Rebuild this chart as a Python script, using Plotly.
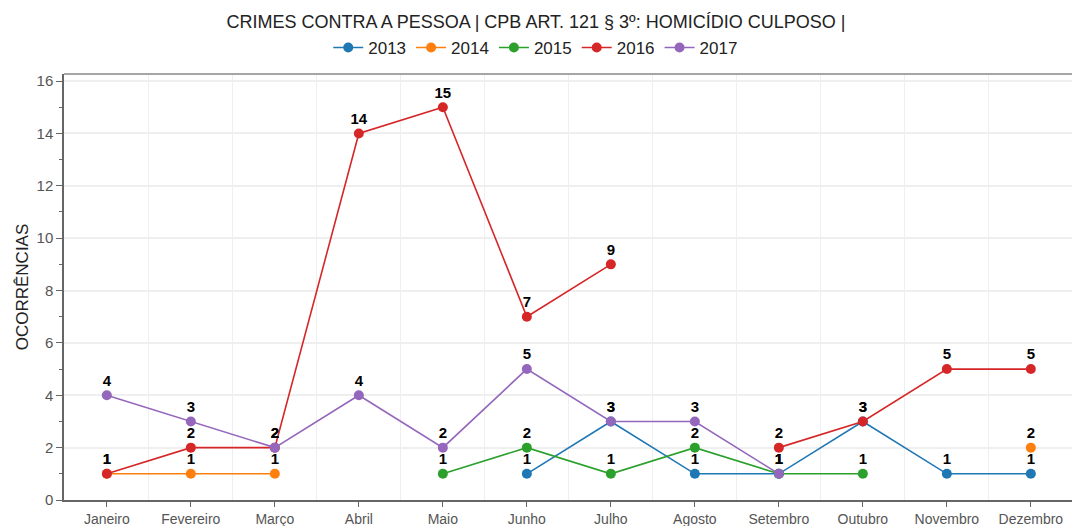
import plotly.graph_objects as go

months = ["Janeiro", "Fevereiro", "Março", "Abril", "Maio", "Junho", "Julho",
          "Agosto", "Setembro", "Outubro", "Novembro", "Dezembro"]
series_names = ["2013", "2014", "2015", "2016", "2017"]
v2013 = [None, None, None, None, None, 1, 3, 1, 1, 3, 1, 1]
v2014 = [1, 1, 1, None, None, None, None, None, None, None, None, 2]
v2015 = [None, None, None, None, 1, 2, 1, 2, 1, 1, None, None]
v2016 = [1, 2, 2, 14, 15, 7, 9, None, 2, 3, 5, 5]
v2017 = [4, 3, 2, 4, 2, 5, 3, 3, 1, None, None, None]
colors = ["#1f77b4", "#ff7f0e", "#2ca02c", "#d62728", "#9467bd"]
yticks = [0, 2, 4, 6, 8, 10, 12, 14, 16]

title = "CRIMES CONTRA A PESSOA | CPB ART. 121 § 3º: HOMICÍDIO CULPOSO |"
ytitle = "OCORRÊNCIAS"

font = "Arial, 'Liberation Sans', sans-serif"
xs = list(range(len(months)))

fig = go.Figure()
all_vals = [v2013, v2014, v2015, v2016, v2017]
for name, vals, c in zip(series_names, all_vals, colors):
    fig.add_trace(go.Scatter(
        x=xs, y=vals, name=name, mode="lines+markers",
        line=dict(color=c, width=1.6),
        marker=dict(color=c, size=10, line=dict(width=0)),
        legendgroup=name, hoverinfo="x+y+name",
    ))
for name, vals, c in zip(series_names, all_vals, colors):
    fig.add_trace(go.Scatter(
        x=xs, y=vals, mode="markers+text",
        text=[("" if v is None else str(v)) for v in vals],
        textposition="top center",
        textfont=dict(family=font, size=15, color="#000000", weight="bold"),
        showlegend=False, legendgroup=name, hoverinfo="skip",
        marker=dict(size=8, opacity=0),
    ))

fig.update_layout(
    width=1072, height=526, autosize=False,
    margin=dict(l=64, r=0, t=74, b=26, autoexpand=False),
    paper_bgcolor="white", plot_bgcolor="white",
    font=dict(family=font, color="#555555", size=13),
    title=dict(text=title, x=0.5, xref="container", xanchor="center",
               y=0.958, yanchor="middle",
               font=dict(family=font, size=18, color="#222222")),
    legend=dict(orientation="h", xref="paper", x=0.468, xanchor="center",
                y=1.061, yanchor="middle",
                font=dict(family=font, size=17, color="#222222"),
                tracegroupgap=0),
    showlegend=True,
)
fig.update_xaxes(
    range=[-0.51, 11.49], tickmode="array", tickvals=xs, ticktext=months,
    showgrid=False, zeroline=False, showline=True, linecolor="#666666",
    linewidth=1.5, ticks="outside", ticklen=5, tickcolor="#666666",
    tickangle=0, automargin=False,
    tickfont=dict(family=font, size=14, color="#555555"),
    minor=dict(tickmode="array", tickvals=[i + 0.5 for i in range(11)],
               showgrid=True, gridcolor="#efefef", gridwidth=1, ticklen=0),
)
fig.update_yaxes(
    range=[0, 16.27], tickmode="array", tickvals=yticks,
    showgrid=True, gridcolor="#efefef", gridwidth=1.5, zeroline=False,
    showline=True, linecolor="#666666", linewidth=1.5, automargin=False,
    ticks="outside", ticklen=6, tickcolor="#666666",
    tickfont=dict(family=font, size=15, color="#555555"),
    minor=dict(tickmode="array", tickvals=[1, 3, 5, 7, 9, 11, 13, 15],
               ticks="outside", ticklen=3, tickcolor="#666666", showgrid=False),
    title=dict(text=ytitle, font=dict(family=font, size=17, color="#222222"),
               standoff=4),
)
fig.add_shape(type="line", xref="paper", yref="paper", x0=0, x1=1, y0=1, y1=1,
              line=dict(color="#888888", width=1.5))

fig.write_html("out.html", config={"displayModeBar": False},
               post_script="document.body.style.margin='0';")
